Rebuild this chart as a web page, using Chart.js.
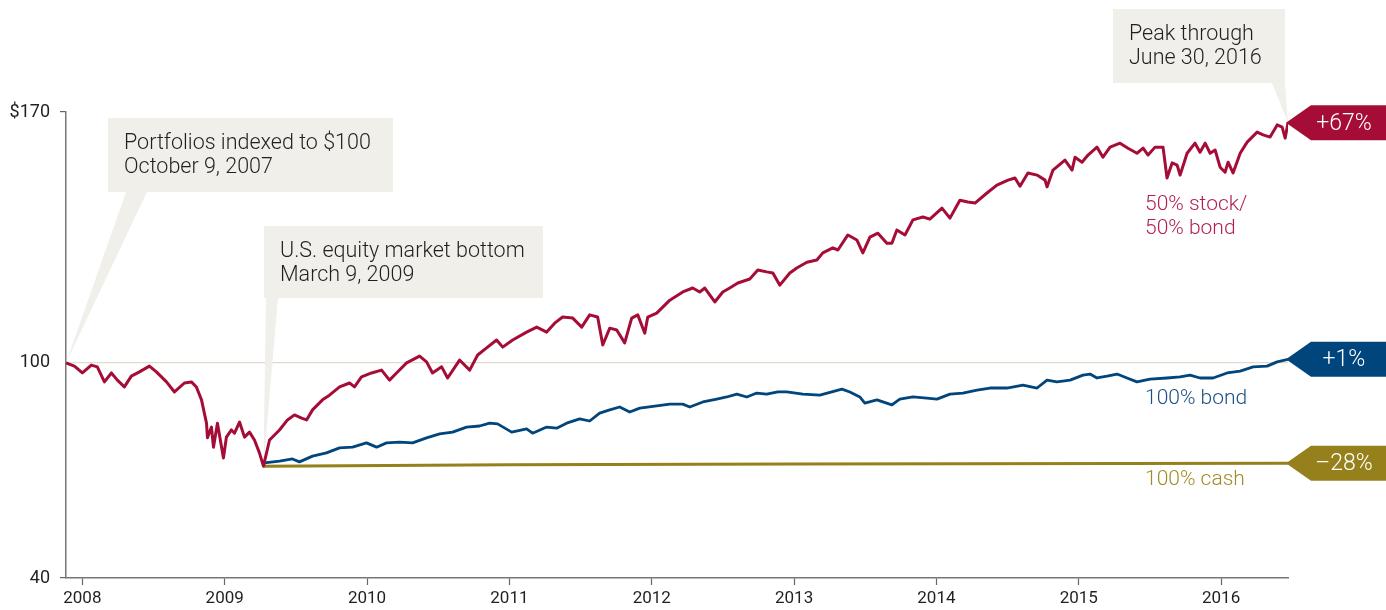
<!DOCTYPE html>
<html>
<head>
<meta charset="utf-8">
<script src="https://cdn.jsdelivr.net/npm/chart.js@4/dist/chart.umd.min.js"></script>
<style>
  body { margin: 0; background: #fff; }
  #wrap { width: 1386px; height: 610px; }
</style>
</head>
<body>
<div id="wrap"><canvas id="chart" width="1386" height="610"></canvas></div>
<script>
// values (x in decimal years, y in $ indexed to 100)
const stockYears = [2007.885, 2007.944, 2008.000, 2008.063, 2008.105, 2008.155, 2008.204, 2008.246, 2008.295, 2008.344,
  2008.401, 2008.471, 2008.520, 2008.591, 2008.647, 2008.717, 2008.766, 2008.801, 2008.837, 2008.872,
  2008.879, 2008.907, 2008.921, 2008.949, 2008.991, 2009.012, 2009.047, 2009.069, 2009.104, 2009.139,
  2009.174, 2009.209, 2009.244, 2009.272, 2009.315, 2009.385, 2009.441, 2009.490, 2009.540, 2009.575,
  2009.617, 2009.687, 2009.736, 2009.807, 2009.877, 2009.912, 2009.961, 2010.032, 2010.102, 2010.158,
  2010.207, 2010.278, 2010.369, 2010.418, 2010.460, 2010.524, 2010.566, 2010.650, 2010.721, 2010.777,
  2010.840, 2010.910, 2010.953, 2011.023, 2011.121, 2011.192, 2011.262, 2011.318, 2011.374, 2011.445,
  2011.508, 2011.564, 2011.620, 2011.656, 2011.705, 2011.754, 2011.810, 2011.859, 2011.902, 2011.951,
  2011.972, 2012.035, 2012.127, 2012.218, 2012.288, 2012.337, 2012.373, 2012.443, 2012.499, 2012.548,
  2012.605, 2012.689, 2012.745, 2012.808, 2012.851, 2012.900, 2012.970, 2013.019, 2013.090, 2013.160,
  2013.202, 2013.272, 2013.308, 2013.378, 2013.441, 2013.483, 2013.533, 2013.589, 2013.652, 2013.687,
  2013.722, 2013.779, 2013.835, 2013.905, 2013.954, 2014.039, 2014.095, 2014.165, 2014.221, 2014.271,
  2014.355, 2014.425, 2014.503, 2014.552, 2014.587, 2014.643, 2014.707, 2014.763, 2014.777, 2014.819,
  2014.903, 2014.953, 2014.974, 2015.023, 2015.065, 2015.128, 2015.170, 2015.220, 2015.290, 2015.346,
  2015.409, 2015.452, 2015.487, 2015.536, 2015.592, 2015.620, 2015.656, 2015.691, 2015.712, 2015.761,
  2015.817, 2015.852, 2015.888, 2015.923, 2015.958, 2015.993, 2016.028, 2016.049, 2016.084, 2016.134,
  2016.183, 2016.253, 2016.295, 2016.344, 2016.394, 2016.429, 2016.450, 2016.470];
const stockValues = [100.0, 99.1, 97.2, 99.4, 98.9, 94.7, 97.2, 95.2, 93.3, 96.3,
  97.5, 99.1, 97.5, 94.7, 91.9, 94.4, 94.7, 93.3, 89.7, 83.2,
  79.1, 82.1, 76.5, 83.2, 73.5, 79.3, 81.3, 80.4, 83.5, 79.3,
  80.7, 78.5, 74.9, 71.2, 78.5, 81.3, 84.1, 85.5, 84.6, 84.1,
  86.9, 89.7, 91.0, 93.3, 94.4, 93.3, 96.1, 97.2, 98.0, 95.2,
  97.2, 100.0, 101.9, 100.3, 97.2, 98.9, 95.8, 100.8, 98.0, 102.2,
  104.2, 106.4, 104.4, 106.4, 108.6, 110.0, 108.6, 111.1, 112.8, 112.5,
  110.0, 113.4, 112.8, 105.0, 109.7, 109.2, 105.6, 112.5, 113.4, 108.3,
  112.8, 113.9, 117.5, 119.8, 120.9, 119.8, 120.9, 117.0, 119.8, 120.9,
  122.3, 123.4, 125.9, 125.4, 125.1, 121.7, 125.1, 126.5, 128.1, 128.7,
  130.7, 132.1, 131.5, 135.7, 134.3, 130.7, 135.1, 136.2, 133.4, 133.4,
  137.1, 135.7, 139.9, 140.7, 140.1, 143.2, 140.4, 145.4, 144.9, 144.6,
  147.4, 149.6, 151.0, 151.6, 149.3, 153.0, 152.4, 151.0, 149.1, 153.8,
  156.6, 153.8, 157.4, 156.0, 158.0, 160.2, 157.4, 160.2, 161.3, 159.9,
  158.5, 159.9, 158.0, 160.2, 160.2, 151.6, 155.8, 155.2, 152.4, 158.5,
  161.3, 158.8, 161.3, 158.5, 159.4, 154.6, 153.2, 156.0, 153.0, 158.5,
  161.6, 164.4, 163.6, 163.0, 166.4, 165.8, 162.7, 167.0];

const bondYears = [2009.272, 2009.279, 2009.385, 2009.476, 2009.525, 2009.617, 2009.715, 2009.807, 2009.898, 2009.996,
  2010.067, 2010.137, 2010.228, 2010.320, 2010.418, 2010.510, 2010.601, 2010.699, 2010.791, 2010.861,
  2010.917, 2011.016, 2011.121, 2011.163, 2011.262, 2011.332, 2011.402, 2011.494, 2011.564, 2011.634,
  2011.705, 2011.775, 2011.845, 2011.916, 2012.035, 2012.127, 2012.218, 2012.267, 2012.359, 2012.457,
  2012.527, 2012.598, 2012.668, 2012.738, 2012.808, 2012.886, 2012.949, 2013.062, 2013.181, 2013.336,
  2013.392, 2013.462, 2013.497, 2013.582, 2013.687, 2013.743, 2013.835, 2013.933, 2014.004, 2014.095,
  2014.186, 2014.285, 2014.376, 2014.496, 2014.608, 2014.707, 2014.777, 2014.847, 2014.939, 2015.030,
  2015.079, 2015.128, 2015.199, 2015.269, 2015.339, 2015.409, 2015.501, 2015.620, 2015.712, 2015.782,
  2015.852, 2015.944, 2016.042, 2016.134, 2016.225, 2016.323, 2016.394, 2016.470];
const bondValues = [71.2, 72.1, 72.6, 73.2, 72.4, 74.0, 74.9, 76.3, 76.5, 77.7,
  76.5, 77.7, 77.9, 77.7, 79.1, 80.2, 80.7, 82.1, 82.4, 83.2,
  83.0, 80.7, 81.6, 80.4, 82.1, 81.8, 83.2, 84.4, 83.8, 86.0,
  86.9, 87.7, 86.3, 87.4, 88.0, 88.5, 88.5, 87.7, 89.1, 89.9,
  90.5, 91.3, 90.5, 91.6, 91.3, 91.9, 91.9, 91.3, 91.0, 92.7,
  91.9, 90.5, 88.8, 89.7, 88.3, 89.9, 90.5, 90.2, 89.9, 91.3,
  91.6, 92.4, 93.0, 93.0, 93.8, 93.0, 95.2, 94.7, 95.2, 96.6,
  96.9, 95.8, 96.3, 96.9, 95.8, 94.7, 95.5, 95.8, 96.1, 96.6,
  95.8, 95.8, 97.2, 97.7, 98.9, 99.1, 100.3, 101.0];

const cashYears = [2009.272, 2011.0, 2013.0, 2016.470];
const cashValues = [71.2, 71.6, 71.8, 72.0];

const yearTicks = [2008, 2009, 2010, 2011, 2012, 2013, 2014, 2015, 2016];
const valueTicks = [40, 100, 170];
const endLabels = ['+67%', '+1%', '\u201328%'];

const RED = '#a50d37';
const BLUE = '#00457c';
const GOLD = '#95801b';
const BOX = '#f0efea';
const INK = '#231f20';
const FONT = "Roboto, 'Liberation Sans', Arial, sans-serif";

const toPoints = (xs, ys) => xs.map((x, i) => ({ x: x, y: ys[i] }));

// callout boxes: box = [left, top, width, height], base = wedge start/end on box bottom
const bottomIdx = stockValues.indexOf(Math.min(...stockValues));
const callouts = [
  { lines: ['Portfolios indexed to $100', 'October 9, 2007'], box: [108, 118, 285, 74], base: [126, 147],
    tip: [stockYears[0], stockValues[0]] },
  { lines: ['U.S. equity market bottom', 'March 9, 2009'], box: [264, 226, 279, 72], base: [266, 278],
    tip: [stockYears[bottomIdx], stockValues[bottomIdx]] },
  { lines: ['Peak through', 'June 30, 2016'], box: [1113, 9, 172, 74], base: [1272, 1285],
    tip: [stockYears[stockYears.length - 1], stockValues[stockValues.length - 1]] }
];

const calloutPlugin = {
  id: 'callouts',
  beforeDatasetsDraw(chart) {
    const { ctx, scales: { x, y } } = chart;
    ctx.save();
    callouts.forEach(c => {
      const [bx, by, bw, bh] = c.box;
      ctx.fillStyle = BOX;
      ctx.fillRect(bx, by, bw, bh);
      ctx.beginPath();
      ctx.moveTo(c.base[0], by + bh);
      ctx.lineTo(c.base[1], by + bh);
      ctx.lineTo(x.getPixelForValue(c.tip[0]), y.getPixelForValue(c.tip[1]));
      ctx.closePath();
      ctx.fill();
      ctx.fillStyle = INK;
      ctx.font = '300 21.5px ' + FONT;
      ctx.textBaseline = 'middle';
      ctx.textAlign = 'left';
      c.lines.forEach((t, i) => ctx.fillText(t, bx + 16, by + 26 + i * 24));
    });
    ctx.restore();
  },
  afterDatasetsDraw(chart) {
    const { ctx, chartArea, scales: { y } } = chart;
    ctx.save();
    // end-value tags
    chart.data.datasets.forEach((ds, i) => {
      const last = ds.data[ds.data.length - 1];
      const py = y.getPixelForValue(last.y);
      const tipX = chartArea.right - 2;
      ctx.fillStyle = ds.borderColor;
      ctx.beginPath();
      ctx.moveTo(tipX, py);
      ctx.lineTo(tipX + 25, py - 17.5);
      ctx.lineTo(1386, py - 17.5);
      ctx.lineTo(1386, py + 17.5);
      ctx.lineTo(tipX + 25, py + 17.5);
      ctx.closePath();
      ctx.fill();
      ctx.fillStyle = '#fff';
      ctx.font = '300 23px ' + FONT;
      ctx.textAlign = 'center';
      ctx.textBaseline = 'middle';
      ctx.fillText(endLabels[i], 1344, py + 1);
    });
    // series names
    ctx.font = '300 21px ' + FONT;
    ctx.textAlign = 'left';
    ctx.textBaseline = 'middle';
    ctx.fillStyle = '#b3224f';
    ctx.fillText('50% stock/', 1145, 205);
    ctx.fillText('50% bond', 1145, 229);
    ctx.fillStyle = '#1d4f80';
    ctx.fillText('100% bond', 1145, 399);
    ctx.fillStyle = '#a28b27';
    ctx.fillText('100% cash', 1145, 480);
    ctx.restore();
  }
};

new Chart(document.getElementById('chart'), {
  type: 'line',
  data: {
    datasets: [
      { label: '50% stock/50% bond', data: toPoints(stockYears, stockValues), borderColor: RED, borderWidth: 3 },
      { label: '100% bond', data: toPoints(bondYears, bondValues), borderColor: BLUE, borderWidth: 2.8 },
      { label: '100% cash', data: toPoints(cashYears, cashValues), borderColor: GOLD, borderWidth: 3 }
    ]
  },
  options: {
    responsive: false,
    animation: false,
    elements: { point: { radius: 0 }, line: { tension: 0, borderJoinStyle: 'round' } },
    layout: { padding: { top: 112, right: 98, left: 0, bottom: 0 } },
    plugins: { legend: { display: false }, tooltip: { enabled: false } },
    scales: {
      x: {
        type: 'linear',
        min: 2007.885,
        max: 2016.47,
        afterBuildTicks: s => { s.ticks = yearTicks.map(v => ({ value: v })); },
        afterFit: s => { s.height = 32; },
        ticks: { callback: v => String(v), color: INK, font: { family: FONT, size: 17 }, padding: 4, maxRotation: 0 },
        grid: { drawOnChartArea: false, tickLength: 7, tickColor: '#666', tickWidth: 1.2 },
        border: { color: '#777', width: 1.5 }
      },
      y: {
        min: 40,
        max: 170,
        afterBuildTicks: s => { s.ticks = valueTicks.map(v => ({ value: v })); },
        afterFit: s => { s.width = 66; },
        ticks: { callback: v => (v === 170 ? '$' + v : String(v)), color: INK, font: { family: FONT, size: 18 }, padding: 10 },
        grid: {
          color: c => (c.tick && c.tick.value === 100 ? '#e1dbcf' : 'rgba(0,0,0,0)'),
          tickColor: c => (c.tick && c.tick.value === 100 ? 'rgba(0,0,0,0)' : '#666'),
          tickLength: 6,
          lineWidth: 1.2
        },
        border: { color: '#777', width: 1.5 }
      }
    }
  },
  plugins: [calloutPlugin]
});
</script>
</body>
</html>
